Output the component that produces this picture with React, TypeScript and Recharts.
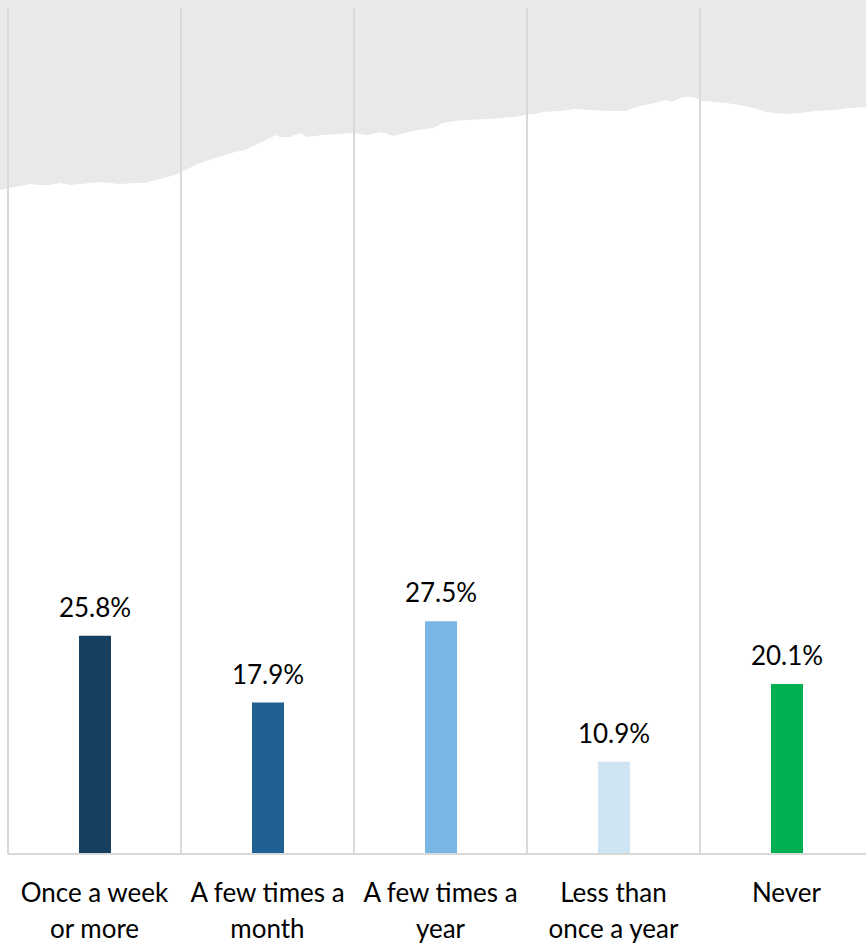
import { Bar, BarChart, CartesianGrid, Cell, LabelList, XAxis, YAxis } from 'recharts';

const categories = ['Once a week\nor more', 'A few times a\nmonth', 'A few times a\nyear', 'Less than\nonce a year', 'Never'];
const shares = [25.8, 17.9, 27.5, 10.9, 20.1];
const barColors = ['#173F5F', '#1F6192', '#7AB6E3', '#D0E5F3', '#00B050'];

const chartData = categories.map((name, i) => ({ name, value: shares[i] }));

// ragged "torn paper" edge of the grey header band (decoration only)
const tornEdge: [number, number][] = [
  [0, 190], [10, 188], [20, 186], [30, 184], [38, 185], [50, 185], [60, 183], [70, 185], [80, 184],
  [100, 182], [110, 183], [120, 184], [135, 183], [145, 183], [160, 179], [175, 175], [181, 172],
  [200, 163], [215, 158], [225, 155], [235, 152], [245, 150], [260, 143], [270, 138], [275, 135],
  [280, 137], [290, 137], [300, 133], [307, 137], [315, 136], [323, 135], [340, 134], [353, 133],
  [367, 135], [380, 132], [385, 133], [393, 136], [405, 133], [417, 130], [433, 128], [443, 123],
  [455, 121], [466, 120], [490, 119], [513, 117], [520, 116], [528, 114], [535, 114], [543, 112],
  [560, 111], [576, 109], [590, 110], [610, 111], [626, 111], [636, 107], [650, 104], [666, 100],
  [672, 102], [683, 97], [690, 97], [696, 98], [703, 101], [715, 102], [726, 103], [740, 105],
  [750, 107], [760, 110], [766, 112], [775, 113], [786, 114], [800, 113], [815, 111], [833, 110],
  [850, 108], [866, 107],
];

const tornPath =
  'M0,0 L866,0 ' + [...tornEdge].reverse().map(([x, y]) => `L${x},${y}`).join(' ') + ' Z';

const font = 'Lato, "Noto Sans", sans-serif';

function CategoryTick({ x, y, payload }: any) {
  const lines = String(payload.value).split('\n');
  return (
    <text x={x} y={y} textAnchor="middle" fill="#000" fontSize={26} fontFamily={font}>
      {lines.map((line, i) => (
        <tspan key={i} x={x} dy={i === 0 ? 40 : 36}>
          {line}
        </tspan>
      ))}
    </text>
  );
}

export default function App() {
  return (
    <div
      style={{
        position: 'fixed',
        top: 0,
        left: 0,
        width: 866,
        height: 946,
        overflow: 'hidden',
        background: '#fff',
      }}
    >
      <svg width={866} height={220} style={{ position: 'absolute', top: 0, left: 0 }}>
        <path d={tornPath} fill="#EAE9E7" />
      </svg>
      <div style={{ position: 'absolute', top: 0, left: 0 }}>
        <BarChart
          width={874}
          height={946}
          data={chartData}
          margin={{ top: 8, right: 1, left: 8, bottom: 0 }}
        >
          <CartesianGrid
            horizontal={false}
            stroke="#D9D9D9"
            strokeWidth={2}
            verticalCoordinatesGenerator={({ offset }: any) =>
              categories.map((_, i) => offset.left + (i * offset.width) / categories.length)
            }
          />
          <XAxis
            dataKey="name"
            height={92}
            interval={0}
            tickLine={false}
            axisLine={{ stroke: '#D9D9D9', strokeWidth: 2 }}
            tick={<CategoryTick />}
          />
          <YAxis hide domain={[0, 100]} />
          <Bar dataKey="value" barSize={32} isAnimationActive={false}>
            {chartData.map((_, i) => (
              <Cell key={i} fill={barColors[i]} />
            ))}
            <LabelList
              dataKey="value"
              position="top"
              offset={19}
              formatter={(v: any) => `${Number(v).toFixed(1)}%`}
              fill="#000"
              fontSize={26}
              fontFamily={font}
            />
          </Bar>
        </BarChart>
      </div>
    </div>
  );
}
